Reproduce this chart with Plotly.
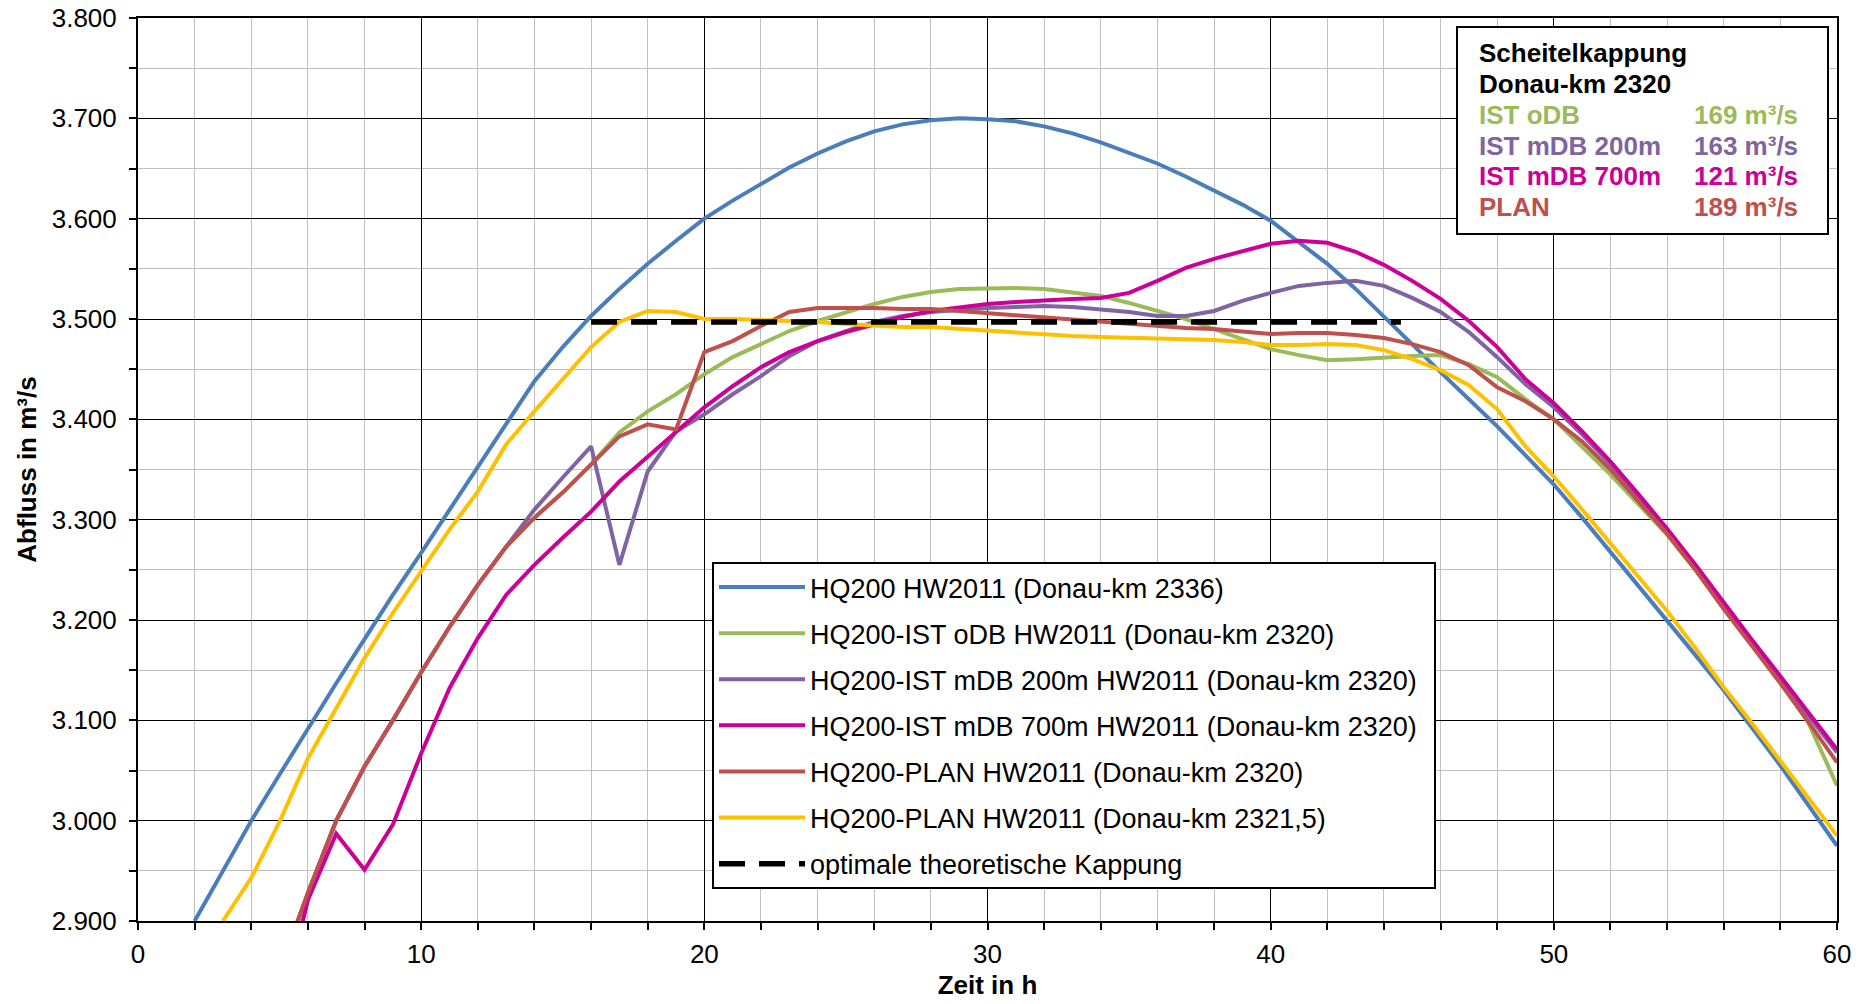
import plotly.graph_objects as go

# ---------------- data ----------------
hours_blue = list(range(2, 61))
q_hq200_2336 = [2900, 2950, 3000, 3046, 3092, 3137, 3181, 3225, 3267, 3310,
                3352, 3395, 3438, 3472, 3503, 3530, 3555, 3578, 3600, 3618,
                3635, 3651, 3665, 3677, 3687, 3694, 3698, 3700, 3699, 3697,
                3692, 3685, 3676, 3666, 3655, 3642, 3628, 3614, 3598, 3577,
                3555, 3530, 3502, 3475, 3447, 3420, 3393, 3364, 3335, 3302,
                3268, 3234, 3200, 3165, 3130, 3093, 3055, 3015, 2975]

hours_2320 = list(range(5, 61))
q_ist_odb = [2850, 2928, 3000, 3054, 3100, 3148, 3193, 3235, 3273, 3302,
             3327, 3355, 3387, 3408, 3425, 3445, 3462, 3475, 3488, 3498,
             3507, 3515, 3522, 3527, 3530, 3531, 3531, 3530, 3527, 3523,
             3516, 3508, 3500, 3490, 3480, 3470, 3464, 3459, 3460, 3462,
             3463, 3464, 3455, 3442, 3420, 3400, 3372, 3345, 3315, 3285,
             3250, 3212, 3175, 3140, 3097, 3035]
q_ist_mdb200 = [2850, 2928, 3000, 3054, 3100, 3148, 3193, 3235, 3273, 3310,
                3342, 3373, 3255, 3348, 3388, 3405, 3425, 3443, 3463, 3478,
                3488, 3497, 3503, 3507, 3509, 3511, 3512, 3513, 3512, 3510,
                3507, 3503, 3503, 3508, 3518, 3526, 3533, 3536, 3538, 3533,
                3521, 3507, 3487, 3462, 3435, 3412, 3385, 3355, 3322, 3288,
                3252, 3214, 3177, 3141, 3104, 3068]
q_ist_mdb700 = [2805, 2921, 2987, 2951, 2996, 3067, 3132, 3182, 3225, 3255,
                3282, 3308, 3338, 3363, 3387, 3412, 3433, 3452, 3467, 3478,
                3487, 3495, 3502, 3508, 3512, 3515, 3517, 3519, 3520, 3521,
                3526, 3538, 3551, 3560, 3568, 3575, 3578, 3576, 3567, 3554,
                3538, 3520, 3498, 3472, 3440, 3416, 3388, 3358, 3325, 3291,
                3255, 3217, 3180, 3144, 3107, 3071]
q_plan_2320 = [2850, 2928, 3000, 3054, 3100, 3148, 3193, 3235, 3273, 3302,
               3327, 3355, 3383, 3395, 3390, 3467, 3478, 3493, 3507, 3511,
               3511, 3511, 3510, 3510, 3508, 3506, 3504, 3502, 3500, 3498,
               3496, 3493, 3491, 3490, 3487, 3485, 3486, 3486, 3484, 3481,
               3475, 3467, 3454, 3432, 3418, 3400, 3378, 3350, 3318, 3286,
               3250, 3211, 3174, 3137, 3098, 3058]

hours_yellow = list(range(3, 61))
q_plan_2321_5 = [2900, 2943, 2999, 3062, 3112, 3162, 3207, 3248, 3290, 3328,
                 3375, 3408, 3440, 3472, 3497, 3508, 3507, 3500, 3500, 3499,
                 3498, 3497, 3495, 3493, 3492, 3492, 3490, 3488, 3486, 3485,
                 3483, 3482, 3481, 3481, 3480, 3479, 3477, 3474, 3474, 3475,
                 3474, 3469, 3460, 3449, 3434, 3410, 3373, 3343, 3310, 3276,
                 3243, 3209, 3172, 3133, 3097, 3060, 3022, 2985]

hours_opt = [16, 44.6]
q_opt = [3497, 3497]

assert len(hours_blue) == len(q_hq200_2336)
for s in (q_ist_odb, q_ist_mdb200, q_ist_mdb700, q_plan_2320):
    assert len(s) == len(hours_2320)
assert len(hours_yellow) == len(q_plan_2321_5)

series_names = [
    "HQ200 HW2011 (Donau-km 2336)",
    "HQ200-IST oDB HW2011 (Donau-km 2320)",
    "HQ200-IST mDB 200m HW2011 (Donau-km 2320)",
    "HQ200-IST mDB 700m HW2011 (Donau-km 2320)",
    "HQ200-PLAN HW2011 (Donau-km 2320)",
    "HQ200-PLAN HW2011 (Donau-km 2321,5)",
    "optimale theoretische Kappung",
]

box_title = ["Scheitelkappung", "Donau-km 2320"]
box_labels = ["IST oDB", "IST mDB 200m", "IST mDB 700m", "PLAN"]
box_values = ["169 m³/s", "163 m³/s", "121 m³/s", "189 m³/s"]

x_ticks = [0, 10, 20, 30, 40, 50, 60]

# ---------------- styling ----------------
BLUE = "#4A7EBB"
GREEN = "#9BBB59"
PURPLE = "#8064A2"
MAGENTA = "#CC0099"
RED = "#C0504D"
YELLOW = "#FFC000"
FONT = "Liberation Sans, Arial, sans-serif"
FS = 26

# plot area in pixels
L, R, T, B = 138, 1837, 18, 921
W, H = 1870, 1004


def px_x(x):
    return (x - L) / (R - L)


def px_y(y):
    return (B - y) / (B - T)


fig = go.Figure()
traces = [
    (hours_blue, q_hq200_2336, BLUE, None),
    (hours_2320, q_ist_odb, GREEN, None),
    (hours_2320, q_ist_mdb200, PURPLE, None),
    (hours_2320, q_ist_mdb700, MAGENTA, None),
    (hours_2320, q_plan_2320, RED, None),
    (hours_yellow, q_plan_2321_5, YELLOW, None),
    (hours_opt, q_opt, "#000000", "26px,14px"),
]
for i, (xs, ys, col, dash) in enumerate(traces):
    fig.add_trace(go.Scatter(
        x=xs, y=ys, mode="lines", name=series_names[i],
        legendgroup=f"g{i}",
        line=dict(color=col, width=5.5 if dash else 4, dash=dash),
        hoverinfo="skip",
    ))

axis_common = dict(
    showline=True, linecolor="#000000", linewidth=2, mirror=True,
    ticks="outside", ticklen=7, tickwidth=2, tickcolor="#000000",
    showgrid=True, gridcolor="#000000", gridwidth=1.4,
    zeroline=False,
    tickfont=dict(family=FONT, size=FS, color="#000000"),
)

fig.update_xaxes(
    range=[0, 60], tickmode="array", tickvals=x_ticks,
    minor=dict(dtick=2, tick0=0, showgrid=True, gridcolor="#BFBFBF",
               gridwidth=1.4, ticks="outside", ticklen=7, tickwidth=2,
               tickcolor="#000000"),
    title=dict(text="<b>Zeit in h</b>", font=dict(family=FONT, size=FS, color="#000000"),
               standoff=8),
    ticklabelstandoff=2,
    **axis_common,
)
fig.update_yaxes(
    range=[2900, 3800], dtick=100, tick0=2900, tickformat=",d",
    minor=dict(dtick=50, tick0=2900, showgrid=True, gridcolor="#BFBFBF",
               gridwidth=1.4, ticks="outside", ticklen=7, tickwidth=2,
               tickcolor="#000000"),
    title=dict(text="<b>Abfluss in m³/s</b>", font=dict(family=FONT, size=FS, color="#000000"),
               standoff=8),
    ticklabelstandoff=7,
    **axis_common,
)

fig.update_layout(
    width=W, height=H,
    margin=dict(l=L, r=W - R, t=T, b=H - B, autoexpand=False),
    paper_bgcolor="#FFFFFF", plot_bgcolor="#FFFFFF",
    separators=",.",
    font=dict(family=FONT, size=FS, color="#000000"),
    showlegend=True,
    legend=dict(
        x=px_x(714), y=px_y(563), xanchor="left", yanchor="top",
        bgcolor="rgba(255,255,255,0)", borderwidth=0,
        font=dict(family=FONT, size=27, color="#000000"),
        itemwidth=86, tracegroupgap=8, traceorder="grouped",
    ),
)

# legend frame (white box behind the legend entries)
fig.add_shape(type="rect", xref="paper", yref="paper",
              x0=px_x(713), x1=px_x(1435), y0=px_y(888), y1=px_y(563),
              line=dict(color="#000000", width=2), fillcolor="#FFFFFF", layer="above")

# info box
fig.add_shape(type="rect", xref="paper", yref="paper",
              x0=px_x(1457), x1=px_x(1828), y0=px_y(234), y1=px_y(27),
              line=dict(color="#000000", width=2), fillcolor="#FFFFFF", layer="above")
row_y = [53, 84, 115, 146, 176, 207]
for j, t in enumerate(box_title):
    fig.add_annotation(xref="paper", yref="paper", x=px_x(1477), y=px_y(row_y[j]),
                       xanchor="left", yanchor="middle", showarrow=False,
                       text=f"<b>{t}</b>", font=dict(family=FONT, size=FS, color="#000000"))
box_colors = [GREEN, PURPLE, MAGENTA, RED]
for j, (lab, val) in enumerate(zip(box_labels, box_values)):
    fig.add_annotation(xref="paper", yref="paper", x=px_x(1477), y=px_y(row_y[j + 2]),
                       xanchor="left", yanchor="middle", showarrow=False,
                       text=f"<b>{lab}</b>", font=dict(family=FONT, size=FS, color=box_colors[j]))
    fig.add_annotation(xref="paper", yref="paper", x=px_x(1692), y=px_y(row_y[j + 2]),
                       xanchor="left", yanchor="middle", showarrow=False,
                       text=f"<b>{val}</b>", font=dict(family=FONT, size=FS, color=box_colors[j]))

fig.write_html("out.html")
